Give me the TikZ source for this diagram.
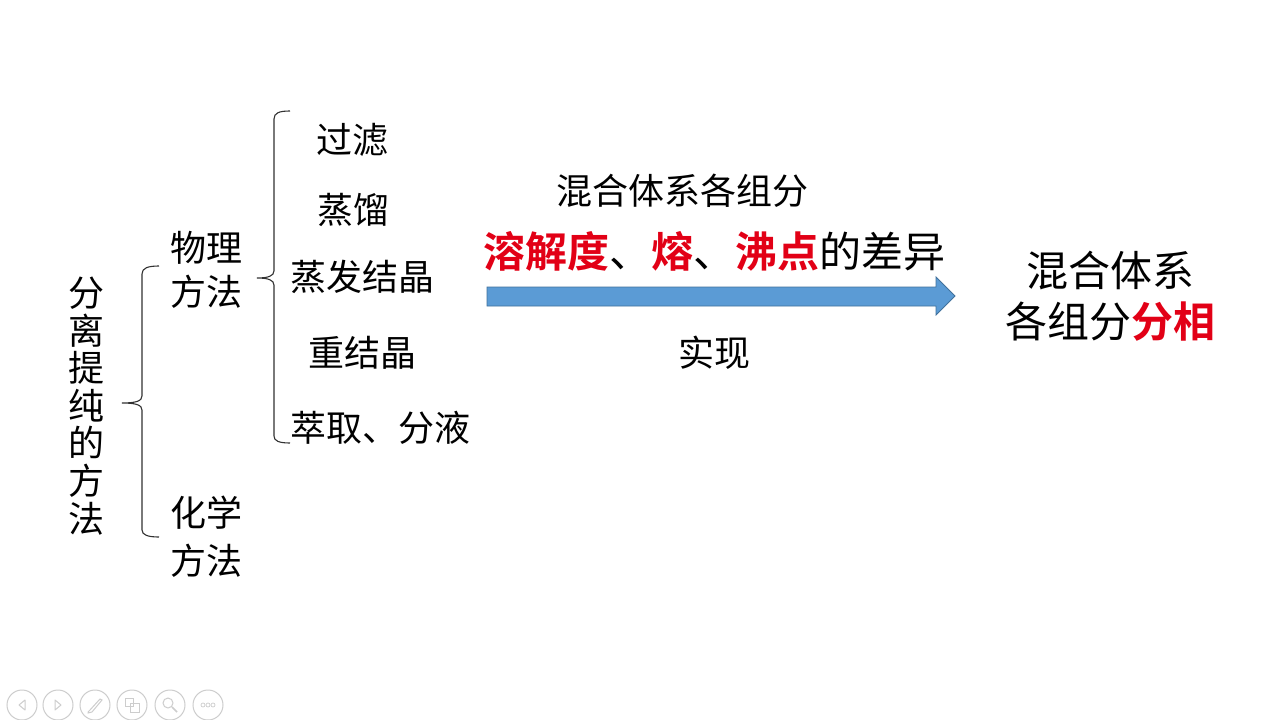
\documentclass[tikz,border=0pt]{standalone}
\usepackage{fontspec}
\setmainfont{Noto Sans CJK SC}[BoldFont={Noto Sans CJK SC Bold}]
\definecolor{keyred}{RGB}{226,0,22}
\definecolor{arrowblue}{RGB}{91,155,213}
\definecolor{arrowedge}{RGB}{65,113,156}
\definecolor{icongray}{RGB}{205,205,205}
\definecolor{bracegray}{RGB}{50,50,50}
\begin{document}
\begin{tikzpicture}[x=1pt,y=-1pt,
  txt/.style={inner sep=0pt, outer sep=0pt, align=center, font=\fontsize{36}{44}\selectfont},
  bigtxt/.style={inner sep=0pt, outer sep=0pt, align=center, font=\fontsize{42}{51}\selectfont},
  bracepath/.style={draw=bracegray, line width=1.1pt},
  iconline/.style={draw=icongray, line width=1pt},
  hl/.style={color=keyred, font=\bfseries}]
\useasboundingbox (0,0) rectangle (1280,720);
\fill[white] (0,0) rectangle (1280,720);

% left column
\node[txt, font=\fontsize{36}{37.6}\selectfont] (method) at (86,406) {分\\离\\提\\纯\\的\\方\\法};
\node[txt] (phys) at (206,270) {物理\\方法};
\node[txt, font=\fontsize{36}{48}\selectfont] (chem) at (206,537) {化学\\方法};

% items
\node[txt, anchor=west] (filter) at (316,140) {过滤};
\node[txt, anchor=west] (distill) at (317,210) {蒸馏};
\node[txt, anchor=west] (evap) at (290,277) {蒸发结晶};
\node[txt, anchor=west] (recryst) at (308,353) {重结晶};
\node[txt, anchor=west] (extract) at (290,428) {萃取、分液};

% brace 1
\coordinate (b1tip) at (122,403);
\coordinate (b1top) at (159,266);
\coordinate (b1bot) at (159,537);
\path[bracepath] (b1top) .. controls (148,266) and (142,268) .. (142,274) -- (142,396)
  .. controls (142,401) and (136,403) .. (b1tip)
  .. controls (136,403) and (142,405) .. (142,410) -- (142,530)
  .. controls (142,535) and (148,537) .. (b1bot);

% brace 2
\coordinate (b2tip) at (257,278);
\coordinate (b2top) at (290,111);
\coordinate (b2bot) at (290,443);
\path[bracepath] (b2top) .. controls (279,111) and (274,113) .. (274,119) -- (274,271)
  .. controls (274,276) and (268,278) .. (b2tip)
  .. controls (268,278) and (274,280) .. (274,285) -- (274,436)
  .. controls (274,441) and (279,443) .. (b2bot);

% middle
\node[txt] (mix) at (682,191) {混合体系各组分};
\node[bigtxt] (diff) at (714,251) {{\color{keyred}\bfseries 溶解度}、{\color{keyred}\bfseries 熔}、{\color{keyred}\bfseries 沸点}的差异};
\node[txt] (real) at (714,353) {实现};

% arrow
\coordinate (arrS) at (487,296);
\coordinate (arrE) at (955,296);
\path[fill=arrowblue, draw=arrowedge, line width=0.8pt]
  (487,287) -- (936,287) -- (936,277) -- (arrE) -- (936,315) -- (936,306) -- (487,306) -- cycle;

% right
\node[bigtxt] (result) at (1110,296) {混合体系\\各组分{\color{keyred}\bfseries 分相}};

% slideshow controls
\foreach \cx/\nm in {22/i1, 58/i2, 95/i3, 132/i4, 170/i5, 208/i6} {
  \node[circle, iconline, minimum size=30pt, inner sep=0pt] (\nm) at (\cx,705) {};
}
\path[iconline, line join=round] (25,700) -- (19,705) -- (25,710) -- cycle;
\path[iconline, line join=round] (55,700) -- (61,705) -- (55,710) -- cycle;
\path[iconline] (88,712) -- (90,710) -- (100,699) -- (102,700) -- (92,712) -- (88,713) -- cycle;
\path[iconline] (125,698) rectangle (133,706);
\path[iconline] (130,703) rectangle (139,712);
\path[iconline] (168,703) circle (5pt);
\path[iconline, line width=1.5pt] (172,707) -- (177,712);
\foreach \dx in {-5,0,5} { \path[iconline, line width=0.7pt] (208+\dx,705) circle (2pt); }
\end{tikzpicture}
\end{document}
